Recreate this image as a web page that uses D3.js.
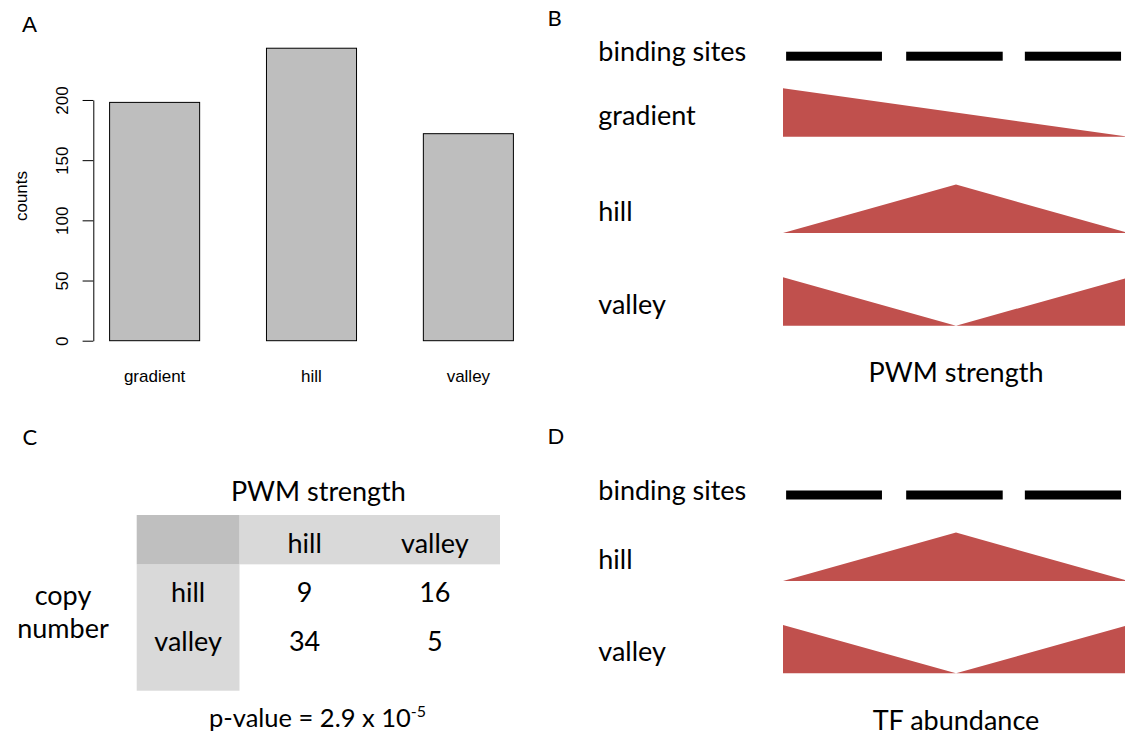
<!DOCTYPE html>
<html>
<head>
<meta charset="utf-8">
<script src="https://cdn.jsdelivr.net/npm/d3@7"></script>
<style>
  html, body { margin: 0; padding: 0; background: #fff; }
  svg { display: block; }
  .r { font-family: "Liberation Sans", Arial, Helvetica, sans-serif; }
  .o { font-family: Lato, "Open Sans", sans-serif; }
</style>
</head>
<body>
<svg id="fig" width="1125" height="735"></svg>
<script>
// ---- Panel A: counts of each motif arrangement ----
const motifClasses = ["gradient", "hill", "valley"];
const motifCounts = [198, 243, 172];
const countTicks = [0, 50, 100, 150, 200];

// ---- Panels B and D: schematic profiles along the binding-site array ----
// binding sites as [start, end] in relative position (0..1)
const bindingSites = [[0.009, 0.286], [0.356, 0.635], [0.699, 0.977]];
// relative level at evenly spaced positions along the array
const gradientProfile = [1, 0];
const hillProfile = [0, 1, 0];
const valleyProfile = [1, 0, 1];
const pwmRows = ["gradient", "hill", "valley"];
const tfRows = ["hill", "valley"];

// ---- Panel C: copy number vs PWM strength contingency table ----
const pwmStrengthCols = ["hill", "valley"];
const copyNumberRows = ["hill", "valley"];
const tableCounts = [[9, 16], [34, 5]];
const pValueMantissa = "2.9";
const pValueExponent = "-5";

const svg = d3.select("#fig");
const RED = "#C0504D";
const FS = 27;      // schematic / table text size
const FS_A = 17;    // panel A text size
const profiles = { gradient: gradientProfile, hill: hillProfile, valley: valleyProfile };

// panel letters
svg.append("text").attr("class", "r").attr("x", 22).attr("y", 31.5)
  .attr("font-size", 22.5).text("A");
[["B", 547.5, 26], ["C", 22.5, 444.5], ["D", 547.5, 443.5]].forEach(([t, x, y]) =>
  svg.append("text").attr("class", "o").attr("x", x).attr("y", y)
    .attr("font-size", 22).text(t));

// ================= Panel A: bar chart =================
const A = svg.append("g").attr("class", "r");
const xA = d3.scaleBand().domain(motifClasses).range([109.6, 513.4])
  .paddingInner(0.426).paddingOuter(0);
const yA = d3.scaleLinear().domain([0, 250]).range([340.7, 39.8]);

A.selectAll("rect.bar").data(motifClasses).join("rect")
  .attr("class", "bar")
  .attr("x", d => xA(d))
  .attr("width", xA.bandwidth())
  .attr("y", (d, i) => yA(motifCounts[i]))
  .attr("height", (d, i) => yA(0) - yA(motifCounts[i]))
  .attr("fill", "#BEBEBE").attr("stroke", "#000").attr("stroke-width", 1);

A.selectAll("text.cat").data(motifClasses).join("text")
  .attr("class", "cat")
  .attr("x", d => xA(d) + xA.bandwidth() / 2)
  .attr("y", 382)
  .attr("text-anchor", "middle")
  .attr("font-size", FS_A)
  .text(d => d);

// y axis spans only the tick range, as in base graphics
const yAxisScale = d3.scaleLinear()
  .domain([countTicks[0], countTicks[countTicks.length - 1]])
  .range([yA(countTicks[0]), yA(countTicks[countTicks.length - 1])]);
const axisG = A.append("g").attr("transform", "translate(93.3,0)")
  .call(d3.axisLeft(yAxisScale).tickValues(countTicks).tickSize(10.7).tickSizeOuter(0));
axisG.select(".domain").attr("stroke", "#000");
axisG.selectAll(".tick line").attr("stroke", "#000");
axisG.selectAll(".tick text")
  .attr("x", null).attr("dy", null)
  .attr("text-anchor", "middle")
  .attr("transform", "translate(-25,0) rotate(-90)")
  .attr("font-size", FS_A)
  .attr("font-family", "Liberation Sans, Arial, sans-serif")
  .attr("fill", "#000");

A.append("text")
  .attr("transform", "translate(26.7,196) rotate(-90)")
  .attr("text-anchor", "middle")
  .attr("font-size", FS_A)
  .text("counts");

// ================= Panels B & D: schematics =================
const xPos = d3.scaleLinear().domain([0, 1]).range([783, 1129]);
const level = d3.scaleLinear().domain([0, 1]).range([0, 48.4]);

function schematic(g, dashY, rows, rowBase, caption, captionY) {
  g.append("text").attr("class", "o").attr("x", 598.3).attr("y", dashY + 5)
    .attr("font-size", FS).text("binding sites");
  g.selectAll("rect.site").data(bindingSites).join("rect")
    .attr("class", "site")
    .attr("x", d => xPos(d[0]))
    .attr("width", d => xPos(d[1]) - xPos(d[0]))
    .attr("y", dashY - 4.5).attr("height", 9)
    .attr("fill", "#000");

  rows.forEach((name, k) => {
    const base = rowBase[k];
    const prof = profiles[name];
    const area = d3.area()
      .x((d, i) => xPos(i / (prof.length - 1)))
      .y0(base)
      .y1(d => base - level(d));
    g.append("path").datum(prof).attr("d", area).attr("fill", RED);
    g.append("text").attr("class", "o").attr("x", 598.3).attr("y", base - 12)
      .attr("font-size", FS).text(name);
  });

  g.append("text").attr("class", "o")
    .attr("x", xPos(0.5)).attr("y", captionY)
    .attr("text-anchor", "middle").attr("font-size", FS).text(caption);
}

schematic(svg.append("g"), 56.2, pwmRows, [136.7, 233, 325.7], "PWM strength", 382);
schematic(svg.append("g"), 495, tfRows, [581, 673.3], "TF abundance", 730);

// ================= Panel C: contingency table =================
const C = svg.append("g").attr("class", "o");
const colX = d3.scaleBand().domain(pwmStrengthCols).range([239.5, 500]);
const rowY = d3.scaleBand().domain(["header"].concat(copyNumberRows)).range([515, 663]);
const labelColX = [136.7, 239.5];

C.append("rect").attr("x", colX.range()[0]).attr("y", rowY("header"))
  .attr("width", colX.range()[1] - colX.range()[0]).attr("height", rowY.bandwidth())
  .attr("fill", "#D9D9D9");
C.append("rect").attr("x", labelColX[0]).attr("y", rowY(copyNumberRows[0]))
  .attr("width", labelColX[1] - labelColX[0]).attr("height", 690.7 - rowY(copyNumberRows[0]))
  .attr("fill", "#D9D9D9");
C.append("rect").attr("x", labelColX[0]).attr("y", rowY("header"))
  .attr("width", labelColX[1] - labelColX[0]).attr("height", rowY.bandwidth())
  .attr("fill", "#BFBFBF");

const textY = r => rowY(r) + rowY.bandwidth() / 2 + 13;

C.append("text").attr("x", (136.7 + 500) / 2).attr("y", 501)
  .attr("text-anchor", "middle").attr("font-size", FS).text("PWM strength");

C.selectAll("text.colh").data(pwmStrengthCols).join("text")
  .attr("class", "colh")
  .attr("x", d => colX(d) + colX.bandwidth() / 2)
  .attr("y", textY("header"))
  .attr("text-anchor", "middle").attr("font-size", FS).text(d => d);

C.selectAll("text.rowh").data(copyNumberRows).join("text")
  .attr("class", "rowh")
  .attr("x", (labelColX[0] + labelColX[1]) / 2)
  .attr("y", d => textY(d))
  .attr("text-anchor", "middle").attr("font-size", FS).text(d => d);

copyNumberRows.forEach((r, i) => {
  pwmStrengthCols.forEach((c, j) => {
    C.append("text")
      .attr("x", colX(c) + colX.bandwidth() / 2)
      .attr("y", textY(r))
      .attr("text-anchor", "middle").attr("font-size", FS)
      .text(tableCounts[i][j]);
  });
});

C.append("text").attr("x", 63).attr("y", 605)
  .attr("text-anchor", "middle").attr("font-size", FS).text("copy");
C.append("text").attr("x", 63).attr("y", 638.3)
  .attr("text-anchor", "middle").attr("font-size", FS).text("number");

const pv = C.append("text").attr("x", 317.5).attr("y", 726.7)
  .attr("text-anchor", "middle").attr("font-size", 25.5);
pv.append("tspan").text("p-value = " + pValueMantissa + " x 10");
pv.append("tspan").attr("dy", -10).attr("font-size", 16).text(pValueExponent);
</script>
</body>
</html>
